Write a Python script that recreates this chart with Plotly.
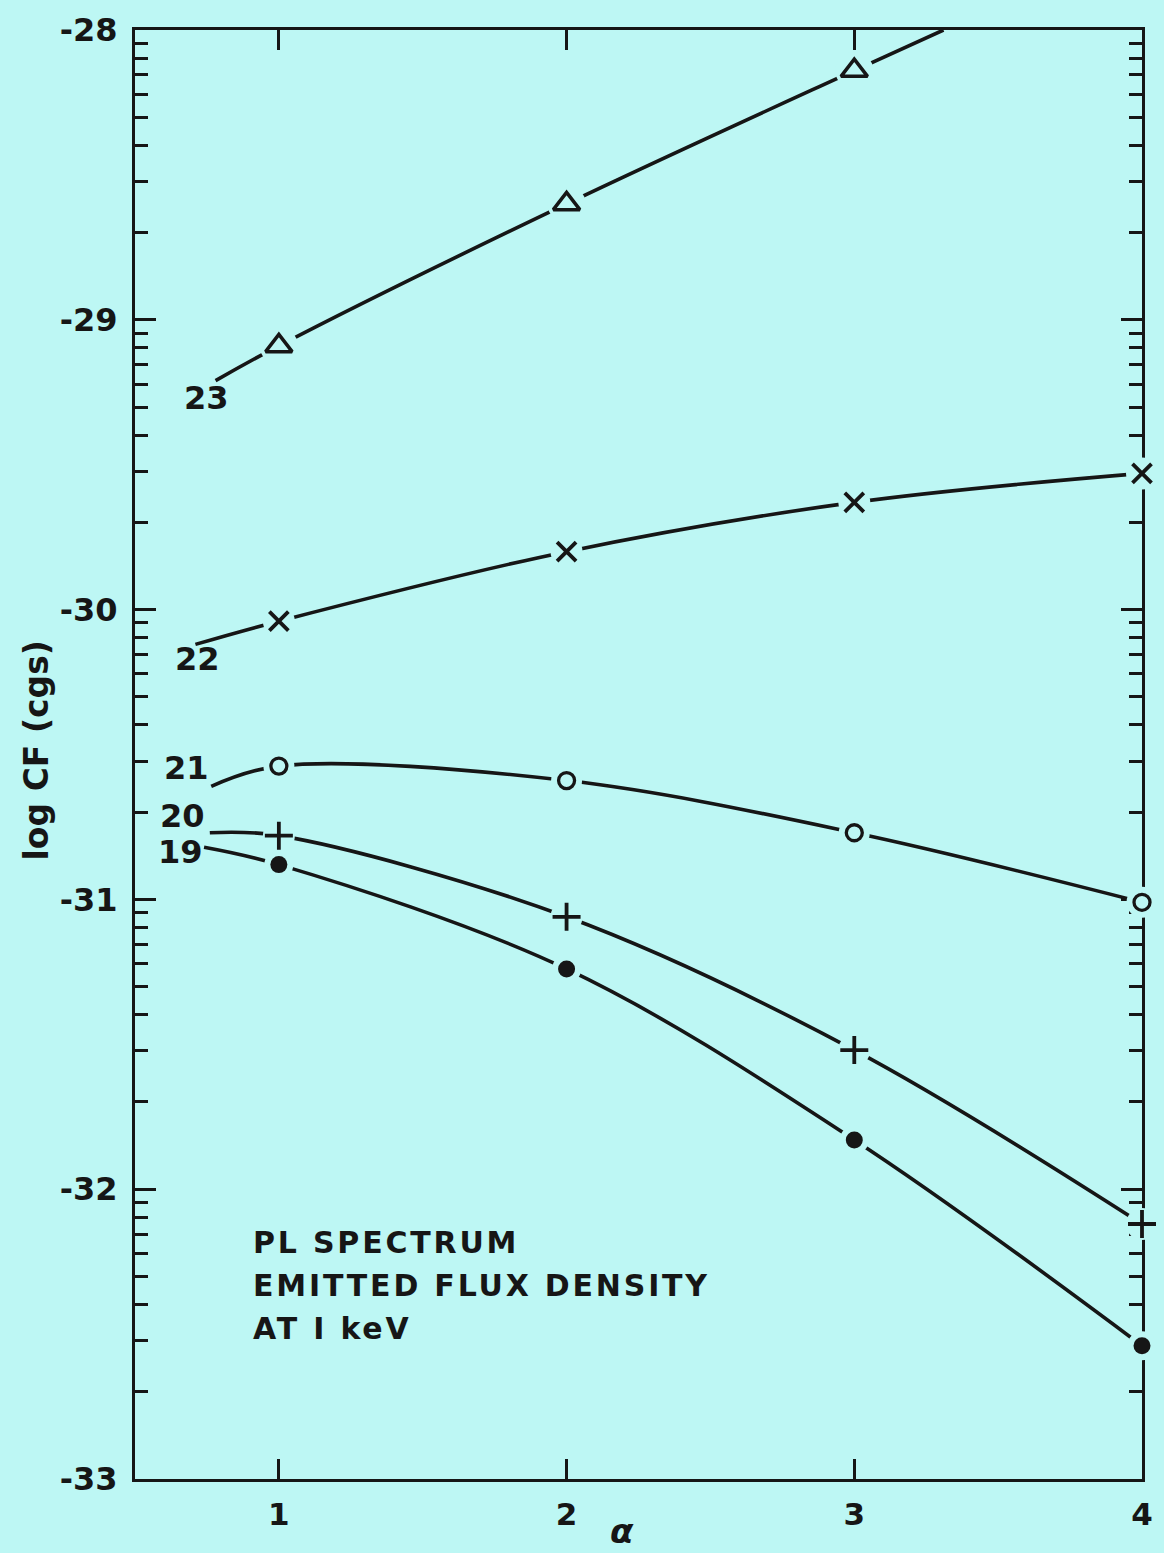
import math
import plotly.graph_objects as go

# alpha grid at which the markers sit
alpha = [1, 2, 3, 4]

# log CF (cgs) for each log column density; first entry of *_line is where the curve starts
line_x = {
    "23": [0.78, 1, 2, 3, 3.31],
    "22": [0.71, 1, 2, 3, 4],
    "21": [0.765, 1, 2, 3, 4],
    "20": [0.76, 1, 2, 3, 4],
    "19": [0.74, 1, 2, 3, 4],
}
line_y = {
    "23": [-29.21, -29.09, -28.60, -28.14, -28.00],
    "22": [-30.12, -30.04, -29.80, -29.63, -29.53],
    "21": [-30.61, -30.54, -30.59, -30.77, -31.01],
    "20": [-30.77, -30.78, -31.06, -31.52, -32.12],
    "19": [-30.82, -30.88, -31.24, -31.83, -32.54],
}
# markers: alpha values and log CF
mark_x = {
    "23": [1, 2, 3],
    "22": [1, 2, 3, 4],
    "21": [1, 2, 3, 4],
    "20": [1, 2, 3, 4],
    "19": [1, 2, 3, 4],
}
mark_y = {
    "23": [-29.09, -28.60, -28.14],
    "22": [-30.04, -29.80, -29.63, -29.53],
    "21": [-30.54, -30.59, -30.77, -31.01],
    "20": [-30.78, -31.06, -31.52, -32.12],
    "19": [-30.88, -31.24, -31.83, -32.54],
}

y_major = [-33, -32, -31, -30, -29, -28]
y_major_text = ["-33", "-32", "-31", "-30", "-29", "-28"]
x_major = [1, 2, 3, 4]
x_major_text = ["1", "2", "3", "4"]

note_lines = ["PL SPECTRUM", "EMITTED FLUX DENSITY", "AT I keV"]

BG = "#bdf7f4"
INK = "#161616"
FONT = "DejaVu Sans"

symbols = {
    "23": dict(symbol="triangle-up-open", size=23, line=dict(width=3.5, color=INK), color=INK),
    "22": dict(symbol="x-thin-open", size=19, line=dict(width=3.8, color=INK), color=INK),
    "21": dict(symbol="circle-open", size=16, line=dict(width=3.3, color=INK), color=INK),
    "20": dict(symbol="cross-thin-open", size=20, line=dict(width=3.8, color=INK), color=INK),
    "19": dict(symbol="circle", size=17, line=dict(width=0), color=INK),
}
eraser_size = {"23": 38, "22": 32, "21": 31, "20": 32, "19": 29}

# label offsets (px) from each curve's starting point
label_shift = {"23": (-9, -17), "22": (2, -15), "21": (-25, 18), "20": (-27, 17), "19": (-24, -5)}

fig = go.Figure()

for key in line_x:
    fig.add_trace(go.Scatter(
        x=line_x[key], y=line_y[key], mode="lines",
        line=dict(color=INK, width=3.6, shape="spline", smoothing=1.0),
        hoverinfo="skip", showlegend=False, cliponaxis=True,
    ))

# background-coloured discs leave a small gap between each curve and its symbol
for key in mark_x:
    fig.add_trace(go.Scatter(
        x=mark_x[key], y=mark_y[key], mode="markers",
        marker=dict(symbol="circle", size=eraser_size[key], color=BG, line=dict(width=0)),
        hoverinfo="skip", showlegend=False, cliponaxis=False,
    ))

for key in mark_x:
    fig.add_trace(go.Scatter(
        x=mark_x[key], y=mark_y[key], mode="markers",
        marker=symbols[key], name=key,
        showlegend=False, cliponaxis=False,
    ))

for key in line_x:
    dx, dy = label_shift[key]
    fig.add_annotation(
        x=line_x[key][0], y=line_y[key][0], xref="x", yref="y",
        text=key, showarrow=False, xshift=dx, yshift=dy,
        font=dict(family=FONT, size=32, color=INK, weight="bold"),
    )

note_y = [-32.183, -32.331, -32.479]
for txt, yy in zip(note_lines, note_y):
    fig.add_annotation(
        x=0.902, y=yy, xref="x", yref="y", xanchor="left", yanchor="middle",
        text=f"<span style='letter-spacing:2.8px'>{txt}</span>", showarrow=False,
        font=dict(family=FONT, size=30, color=INK, weight="bold"),
    )

fig.add_annotation(
    x=-0.098, y=0.503, xref="paper", yref="paper", text="log CF (cgs)",
    textangle=-90, showarrow=False, xanchor="center", yanchor="middle",
    font=dict(family=FONT, size=33, color=INK, weight="bold"),
)
fig.add_annotation(
    x=0.484, y=-0.036, xref="paper", yref="paper", text="<i>α</i>",
    showarrow=False, xanchor="center", yanchor="middle",
    font=dict(family=FONT, size=34, color=INK, weight="bold"),
)

y_minor = [n + math.log10(k) for n in range(-33, -28) for k in range(2, 10)]

fig.update_xaxes(
    range=[0.5, 4.0], showgrid=False, zeroline=False,
    showline=True, linecolor=INK, linewidth=3, mirror="ticks",
    ticks="inside", ticklen=20, tickwidth=2.6, tickcolor=INK,
    tickmode="array", tickvals=x_major, ticktext=x_major_text,
    tickfont=dict(family=FONT, size=31, color=INK, weight="bold"), ticklabelstandoff=6,
    layer="below traces",
)
fig.update_yaxes(
    range=[-33, -28], showgrid=False, zeroline=False,
    showline=True, linecolor=INK, linewidth=3, mirror="ticks",
    ticks="inside", ticklen=21, tickwidth=2.6, tickcolor=INK,
    tickmode="array", tickvals=y_major, ticktext=y_major_text,
    tickfont=dict(family=FONT, size=32, color=INK, weight="bold"), ticklabelstandoff=8,
    minor=dict(tickmode="array", tickvals=y_minor, ticks="inside",
               ticklen=13, tickwidth=2.6, tickcolor=INK, showgrid=False),
    layer="below traces",
)

fig.update_layout(
    width=1164, height=1553,
    margin=dict(l=135, r=11, t=29, b=74),
    paper_bgcolor=BG, plot_bgcolor=BG,
    showlegend=False,
)

fig.write_html("out.html")
